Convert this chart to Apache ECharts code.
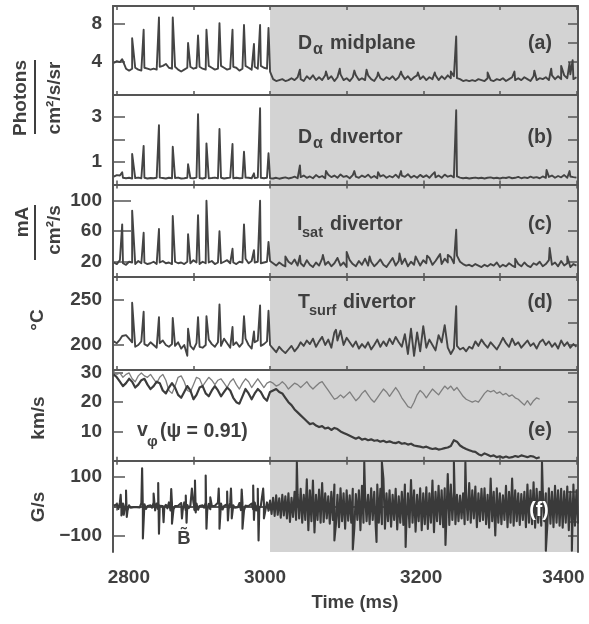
<!DOCTYPE html>
<html>
<head>
<meta charset="utf-8">
<script src="https://cdn.jsdelivr.net/npm/echarts@6/dist/echarts.min.js"></script>
<style>html,body{margin:0;padding:0;background:#fff}#c{width:589px;height:624px}</style>
</head>
<body>
<div id="c"></div>
<script>
// sampling grid of the traces (ms)
const T0 = 2796, DT = 4;
const xTicks = [2800, 2900, 3000, 3100, 3200, 3300, 3400];
const xLabels = [2800, 3000, 3200, 3400];

// ELM times before the transition (ms) and peak values in each panel
const elmT = [2807, 2820, 2835, 2855, 2873, 2893, 2906, 2917, 2934, 2951, 2966, 2979, 2987, 2998];
const aElm = [4.3, 6.5, 7.4, 8.7, 8.7, 6.0, 6.8, 7.4, 8.1, 7.4, 7.9, 5.9, 7.9, 7.6];
const bElm = [0.55, 1.36, 1.72, 2.64, 1.68, 0.9, 3.13, 1.83, 2.47, 1.8, 1.46, 0.5, 3.39, 1.39];
const cElm = [69, 87, 58, 63, 80, 56, 81, 100, 60, 37, 69, 35, 100, 46];
const dElm = [210, 247, 237, 231, 230, 218, 231, 232, 245, 220, 232, 215, 244, 238];

// (a) D-alpha midplane
const aBase = [3.9,4.1,4.0,4.1,3.3,3.1,3.3,3.4,3.2,3.1,
 3.4,3.3,3.2,3.3,3.2,3.5,3.6,3.8,3.4,3.3,
 3.5,3.2,3.0,3.2,3.4,3.5,3.3,3.4,3.5,3.3,
 3.2,3.6,3.4,3.2,3.3,3.6,3.4,3.2,3.3,3.5,
 3.4,3.1,3.3,3.6,3.4,3.2,3.5,3.3,3.6,3.4,
 3.3,3.0,
 2.2,2.0,2.1,2.2,2.0,2.1,2.3,2.1,2.4,2.2,
 2.0,2.5,2.2,2.6,2.1,2.4,2.1,2.6,2.2,2.5,
 2.0,2.4,2.7,2.1,2.3,2.0,2.4,2.6,2.1,2.3,
 2.1,2.6,2.2,2.0,2.5,2.3,2.1,2.4,2.2,2.5,
 2.1,2.4,2.7,2.2,2.5,2.1,2.4,2.6,2.2,2.5,
 2.1,2.4,2.2,2.6,2.1,2.5,2.2,2.6,2.3,2.5,
 2.3,2.2,2.0,2.1,2.0,2.1,2.0,2.2,2.1,2.0,
 2.3,2.1,2.0,2.2,2.1,2.3,2.0,2.2,2.4,2.1,
 2.3,2.1,2.4,2.2,2.0,2.5,2.1,2.3,2.2,2.4,
 2.1,2.6,2.2,2.5,2.2,2.6,2.3,2.7,2.2,2.4];
const aPost = [[3039,3.2],[3073,3.0],[3091,3.3],[3110,3.1],[3126,3.2],[3141,2.9],[3171,3.0],[3193,2.9],[3215,2.9],[3236,3.0],[3243,6.7],[3284,2.9],[3319,3.0],[3345,3.1],[3367,3.3],[3380,3.6],[3391,3.9],[3395,4.2]];

// (b) D-alpha divertor
const bBase = [0.35,0.42,0.40,0.30,0.28,0.30,0.27,0.29,0.31,0.28,
 0.30,0.27,0.29,0.28,0.30,0.31,0.29,0.27,0.30,0.28,
 0.29,0.31,0.27,0.28,0.30,0.29,0.28,0.31,0.29,0.27,
 0.30,0.28,0.29,0.31,0.28,0.30,0.27,0.29,0.31,0.28,
 0.30,0.28,0.29,0.31,0.30,0.28,0.29,0.31,0.30,0.28,
 0.30,0.28,
 0.27,0.30,0.26,0.29,0.32,0.27,0.30,0.35,0.28,0.33,
 0.40,0.30,0.36,0.28,0.42,0.32,0.38,0.28,0.44,0.33,
 0.40,0.30,0.45,0.34,0.38,0.28,0.42,0.35,0.30,0.40,
 0.33,0.44,0.30,0.38,0.28,0.36,0.42,0.30,0.38,0.32,
 0.44,0.30,0.40,0.34,0.46,0.31,0.39,0.30,0.43,0.33,
 0.41,0.30,0.45,0.32,0.40,0.30,0.44,0.35,0.40,0.32,
 0.36,0.31,0.28,0.30,0.27,0.29,0.31,0.28,0.30,0.27,
 0.30,0.32,0.28,0.30,0.27,0.31,0.29,0.33,0.28,0.30,
 0.34,0.28,0.32,0.29,0.35,0.30,0.33,0.28,0.36,0.30,
 0.34,0.40,0.30,0.38,0.32,0.42,0.30,0.36,0.33,0.31];
const bPost = [[3039,0.85],[3073,0.6],[3110,0.6],[3141,0.55],[3171,0.6],[3215,0.55],[3243,3.3],[3361,0.65],[3391,0.6]];

// (c) Isat divertor
const cBase = [19,17,22,18,16,20,19,17,21,18,
 19,17,18,20,17,19,21,18,19,17,
 20,18,19,17,20,18,22,19,17,20,
 18,19,21,17,19,18,20,22,18,19,
 17,20,19,24,18,21,19,20,18,19,
 20,21,
 18,15,19,16,14,20,17,23,15,18,
 14,22,16,13,19,15,24,16,20,14,
 18,25,15,19,13,22,17,14,21,16,
 24,15,20,14,18,23,16,13,19,25,
 15,21,17,24,14,20,16,26,15,22,
 18,25,16,21,27,17,24,19,26,18,
 28,20,17,15,16,14,17,15,13,16,
 14,17,15,19,13,16,14,18,15,13,
 17,14,19,15,13,18,16,20,14,17,
 22,16,19,14,21,15,18,13,17,15];
const cPost = [[3020,27],[3039,28],[3069,29],[3100,33],[3130,27],[3169,31],[3190,27],[3205,28],[3222,30],[3232,29],[3243,62],[3320,24],[3365,38],[3388,27]];

// (d) Tsurf divertor
const dBase = [204,202,206,208,211,207,203,198,200,204,
 201,199,203,200,197,202,205,200,198,201,
 199,203,196,200,188,199,195,202,198,197,
 200,206,201,198,203,199,207,202,197,200,
 203,198,202,207,200,196,203,205,199,201,
 204,200,
 196,192,198,194,191,195,199,193,197,203,
 199,205,201,207,198,204,209,200,206,197,
 214,205,216,200,208,203,198,204,196,201,
 197,203,195,200,206,198,204,199,207,201,
 209,203,198,212,190,218,188,214,193,221,
 197,206,200,194,211,203,222,197,190,196,
 199,195,197,193,198,196,204,199,206,201,
 197,203,199,195,201,208,202,198,207,200,
 203,197,201,205,199,202,196,203,206,200,
 204,198,202,196,205,199,203,197,201,198];
const dPost = [[3086,217],[3243,243]];

// (e) v_phi, two chords (2796 ... 3352 ms)
const eDark = [29.5,28.5,27.0,25.5,26.5,28.0,27.0,25.0,26.0,27.5,
 28.0,26.0,24.5,25.5,27.0,26.5,24.0,23.0,25.0,26.5,
 25.0,22.5,21.5,23.5,25.5,24.0,21.0,22.5,25.0,25.5,
 23.0,22.0,24.0,25.5,24.0,22.0,23.5,25.0,24.0,21.5,
 20.0,19.5,22.0,24.5,23.0,21.0,23.0,24.5,23.5,21.5,
 20.5,23.5,
 24.0,24.5,23.5,23.0,21.5,20.0,19.0,17.5,16.5,15.5,
 14.5,13.5,12.5,12.8,12.0,11.5,11.8,11.0,11.3,10.5,
 11.2,10.8,10.0,9.5,9.0,8.5,8.0,7.5,8.0,7.2,
 7.5,7.0,7.3,6.8,7.0,6.5,6.8,6.3,6.6,6.2,
 6.0,6.4,5.8,6.0,5.5,5.8,5.2,5.0,4.8,4.5,
 4.8,4.3,4.0,4.2,3.8,4.0,4.3,4.5,5.0,7.0,
 6.5,5.2,4.5,4.0,3.6,3.2,3.0,2.2,1.8,2.5,
 2.0,1.5,1.8,1.2,1.5,1.0,1.4,1.0,1.2,1.6,
 1.3,1.8,1.5,1.2,1.6,1.4,0.8,1.2];
const eGray = [30.5,29.5,30.0,28.5,29.5,30.0,28.0,27.0,29.0,30.0,
 29.0,28.5,29.5,28.0,26.5,28.5,29.5,27.5,24.0,23.0,
 25.5,28.5,29.0,27.0,24.0,23.5,26.0,28.5,28.0,25.5,
 27.0,28.5,27.5,26.0,27.5,28.0,26.5,25.0,27.0,28.0,
 26.0,24.5,26.5,28.0,27.0,25.0,26.5,28.0,26.5,25.0,
 26.5,27.0,
 26.5,25.5,26.0,27.0,26.0,24.5,25.5,26.5,26.0,25.0,
 26.0,27.0,25.5,24.5,25.5,26.5,27.0,25.5,24.0,22.5,
 21.0,21.5,22.5,21.5,22.5,23.5,22.0,20.5,21.5,23.0,
 24.0,22.5,21.0,20.0,21.5,23.0,24.5,23.5,22.0,23.5,
 25.0,23.5,21.5,20.0,18.5,18.0,20.0,22.5,24.0,23.0,
 21.5,23.0,24.5,23.5,22.5,24.0,25.5,24.5,25.5,24.0,
 25.0,23.5,22.0,21.0,20.5,20.0,20.5,20.0,21.5,23.0,
 24.0,23.5,24.0,23.0,23.5,22.5,23.0,22.0,22.5,21.5,
 21.0,20.0,19.0,20.5,19.0,20.5,21.5,21.0];

// (f) B-dot: upper / lower envelope of the fast oscillation, plus isolated spikes
const fHi = [3,8,14,10,12,4,2,2,3,12, 8,2,4,14,10,3,2,6,14,9,
 2,3,12,14,5,3,14,10,2,4, 14,9,2,3,13,10,2,8,14,4,
 2,12,13,3,2,10,14,6,3,12, 14,20,
 30,38,28,40,35,45,30,50,42,60, 40,92,55,88,40,58,80,45,35,50,
 75,40,62,45,55,38,60,42,55,70, 48,40,62,50,75,60,95,45,55,40,
 60,35,50,75,45,90,55,40,62,45, 65,45,88,50,70,55,62,110,75,50,
 40,37,45,40,80,55,68,45,60,62, 40,95,50,62,45,38,70,50,95,55,
 45,42,50,75,55,82,60,50,55,45, 62,50,70,55,60,52,68,50,75,55];
const fLo = [-3,-8,-12,-10,-13,-4,-2,-2,-3,-13, -8,-2,-4,-13,-10,-3,-2,-6,-13,-9,
 -2,-3,-12,-13,-5,-3,-13,-11,-2,-4, -13,-9,-2,-3,-14,-10,-2,-8,-13,-4,
 -2,-12,-13,-3,-2,-10,-13,-6,-3,-12, -14,-25,
 -32,-28,-38,-30,-40,-52,-35,-45,-40,-55, -45,-80,-50,-88,-45,-55,-52,-40,-58,-45,
 -60,-70,-50,-75,-48,-55,-75,-45,-80,-55, -50,-60,-45,-70,-55,-60,-75,-50,-68,-45,
 -78,-55,-62,-50,-70,-55,-85,-50,-80,-60, -76,-55,-87,-50,-60,-70,-55,-62,-45,-60,
 -50,-40,-60,-45,-55,-40,-70,-50,-45,-60, -72,-50,-98,-55,-60,-45,-70,-55,-65,-50,
 -62,-45,-70,-55,-60,-72,-55,-65,-50,-62, -58,-70,-55,-65,-72,-55,-80,-60,-65,-58];
const fSpk = [[2805,40],[2806,-30],[2809,-28],[2812,54],[2813,-35],[2833,130],[2834,-108],[2848,44],
 [2854,80],[2855,-92],[2861,-53],[2871,59],[2872,-58],[2885,-40],[2890,37],[2891,-55],[2898,61],
 [2902,88],[2903,-20],[2916,105],[2917,-75],[2922,31],[2933,61],[2934,-75],[2944,51],[2945,-47],
 [2949,61],[2950,-40],[2963,58],[2964,-75],[2978,71],[2979,-45],[2984,60],[2985,-115],[2991,61],[2992,-40],
 [3035,150],[3084,-115],[3108,-145],[3123,150],[3139,-120],[3146,150],[3177,-137],[3229,-130],
 [3240,150],[3255,150],[3355,150],[3360,-150],[3394,-150]];

// tick values of the y axes
const aTicksL = [4, 8], aTicksR = [4, 6, 8];
const bTicks = [1, 2, 3], bLabels = [1, 3];
const cTicks = [20, 60, 100];
const dTicksL = [200, 250], dTicksR = [200, 225, 250];
const eTicks = [10, 20, 30];
const fTicksL = [-100, 100], fTicksR = [-100, -50, 0, 50, 100];

// ---------------------------------------------------------------
const FONT = '"Liberation Sans", Arial, Helvetica, sans-serif';
const INK = '#3f3f3f', FRAME = '#555';

function merge(base, extra) {
  const pts = base.map((v, i) => [T0 + DT * i, v]);
  extra.forEach(p => pts.push(p));
  pts.sort((p, q) => p[0] - q[0]);
  return pts;
}
function zip(ts, vs) { return ts.map((t, i) => [t, vs[i]]); }
function zigzag(hi, lo, extra) {
  const pts = [];
  hi.forEach((h, i) => { pts.push([T0 + DT * i, h]); pts.push([T0 + DT * i + 2, lo[i]]); });
  extra.forEach(p => pts.push(p));
  pts.sort((p, q) => p[0] - q[0]);
  return pts;
}

const tops = [6, 95, 185, 277, 370, 462];
const heights = [89, 90, 92, 93, 92, 90];
const yRange = [[0.53, 9.9], [-0.02, 3.98], [0, 120.6], [172.2, 275.6], [-0.45, 31], [-154, 151]];
const yTicksL = [aTicksL, bTicks, cTicks, dTicksL, eTicks, fTicksL];
const yLabelsL = [aTicksL, bLabels, cTicks, dTicksL, eTicks, fTicksL];
const yTicksR = [aTicksR, bTicks, cTicks, dTicksR, eTicks, fTicksR];
const tickLenL = [12, 12, 18, 11, 10, 12];

const grid = tops.map((t, i) => ({ left: 113, width: 465, top: t, height: heights[i], show: false }));
const xAxis = [], yAxis = [];
tops.forEach((t, i) => {
  ['bottom', 'top'].forEach(pos => {
    const showLab = (i === 5 && pos === 'bottom');
    xAxis.push({
      type: 'value', gridIndex: i, position: pos, min: 2795, max: 3402, z: 3,
      axisLine: { show: true, lineStyle: { color: FRAME, width: 2 } },
      axisTick: { show: true, inside: true, length: 4, customValues: xTicks, lineStyle: { color: FRAME, width: 1.5 } },
      axisLabel: showLab ? {
        show: true, customValues: xLabels, margin: 16, fontSize: 19, fontWeight: 'bold', color: INK, fontFamily: FONT,
        formatter: v => '{s' + v + '|' + v + '}',
        rich: { s2800: { padding: [0, 0, 0, 24] }, s3000: { padding: [0, 10, 0, 0] }, s3200: { padding: [0, 4, 0, 0] }, s3400: { padding: [0, 26, 0, 0] } }
      } : { show: false },
      splitLine: { show: false }
    });
  });
  yAxis.push({
    type: 'value', gridIndex: i, position: 'left', min: yRange[i][0], max: yRange[i][1], z: 3,
    axisLine: { show: true, lineStyle: { color: FRAME, width: 2 } },
    axisTick: { show: true, inside: true, length: tickLenL[i], customValues: yTicksL[i], lineStyle: { color: FRAME, width: 1.5 } },
    axisLabel: { show: true, customValues: yLabelsL[i], margin: 11, fontSize: 19, fontWeight: 'bold', color: INK, fontFamily: FONT,
      formatter: v => v < 0 ? '\u2212' + (-v) : String(v) },
    splitLine: { show: false }
  });
  yAxis.push({
    type: 'value', gridIndex: i, position: 'right', min: yRange[i][0], max: yRange[i][1], z: 3,
    axisLine: { show: true, lineStyle: { color: FRAME, width: 2 } },
    axisTick: { show: true, inside: true, length: 10, customValues: yTicksR[i], lineStyle: { color: FRAME, width: 1.5 } },
    axisLabel: { show: false }, splitLine: { show: false }
  });
});

const shade = { silent: true, itemStyle: { color: '#d3d3d3' }, data: [[{ xAxis: 3000 }, { xAxis: 3402 }]] };
function line(i, data, color, width, withShade) {
  const s = { type: 'line', xAxisIndex: 2 * i, yAxisIndex: 2 * i, data, showSymbol: false, symbol: 'none',
    lineStyle: { color, width, join: 'round' }, animation: false, silent: true };
  if (withShade) s.markArea = shade;
  return s;
}
const series = [
  line(0, merge(aBase, zip(elmT, aElm).concat(aPost)), '#444444', 1.9, true),
  line(1, merge(bBase, zip(elmT, bElm).concat(bPost)), '#444444', 1.9, true),
  line(2, merge(cBase, zip(elmT, cElm).concat(cPost)), '#444444', 1.9, true),
  line(3, merge(dBase, zip(elmT, dElm).concat(dPost)), '#444444', 1.9, true),
  line(4, merge(eGray, []), '#7e7e7e', 1.3, true),
  line(4, merge(eDark, []), '#3c3c3c', 2.2, false),
  line(5, zigzag(fHi, fLo, fSpk), '#3a3a3a', 2.1, true)
];

function txt(text, x, y, o) {
  o = o || {};
  const al = o.align || 'left';
  return { type: 'text', x, y, z: 100, rotation: o.rot || 0, silent: true,
    style: { text, fill: o.fill || INK, fontSize: o.fs || 19.5, fontWeight: 'bold', fontFamily: FONT,
      align: al, textAlign: al, verticalAlign: 'middle', textVerticalAlign: 'middle' } };
}
const R = Math.PI / 2;
const graphic = [
  txt('D', 298, 44), txt('α', 313, 50, { fs: 16 }), txt('midplane', 330, 44), txt('(a)', 540, 44, { align: 'center' }),
  txt('D', 298, 138), txt('α', 313, 144, { fs: 16 }), txt('dıvertor', 330, 138), txt('(b)', 540, 138, { align: 'center' }),
  txt('I', 297, 225), txt('sat', 302, 233, { fs: 14.5 }), txt('divertor', 330, 225), txt('(c)', 540, 225, { align: 'center' }),
  txt('T', 298, 303), txt('surf', 309, 311, { fs: 14.5 }), txt('divertor', 343, 303), txt('(d)', 540, 303, { align: 'center' }),
  txt('v', 137, 431), txt('φ', 147, 442, { fs: 15 }), txt('(ψ = 0.91)', 160, 432), txt('(e)', 540, 431, { align: 'center' }),
  txt('(f)', 539, 511, { align: 'center', fill: '#ffffff' }),
  txt('B\u0303', 184, 539, { align: 'center', fs: 18.5 }),
  txt('Photons', 21, 98, { align: 'center', rot: R, fs: 19 }),
  txt('cm²/s/sr', 55, 98, { align: 'center', rot: R, fs: 19 }),
  { type: 'line', silent: true, z: 100, shape: { x1: 35, y1: 60, x2: 35, y2: 134 }, style: { stroke: INK, lineWidth: 2 } },
  txt('mA', 23, 222, { align: 'center', rot: R, fs: 19 }),
  txt('cm²/s', 55, 230, { align: 'center', rot: R, fs: 19 }),
  { type: 'line', silent: true, z: 100, shape: { x1: 35, y1: 205, x2: 35, y2: 260 }, style: { stroke: INK, lineWidth: 2 } },
  txt('°C', 38, 320, { align: 'center', rot: R, fs: 19 }),
  txt('km/s', 38.5, 418, { align: 'center', rot: R, fs: 19 }),
  txt('G/s', 38.5, 507, { align: 'center', rot: R, fs: 19 }),
  txt('Time (ms)', 355, 603, { align: 'center', fs: 18.5 })
];

const chart = echarts.init(document.getElementById('c'), null, { renderer: 'canvas' });
chart.setOption({ animation: false, backgroundColor: '#ffffff', grid, xAxis, yAxis, series, graphic });
</script>
</body>
</html>
